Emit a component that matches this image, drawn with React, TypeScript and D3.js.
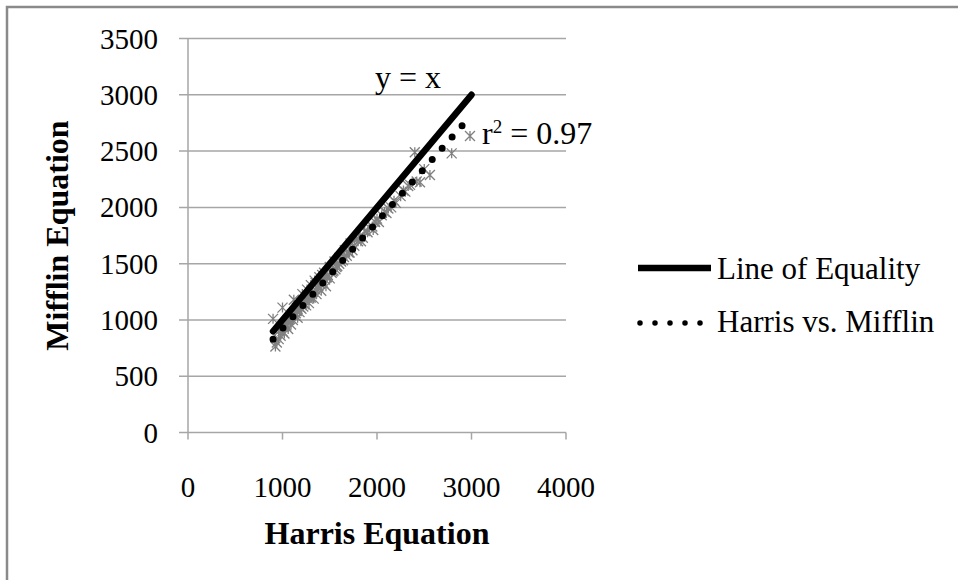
import React from "react";
import * as d3 from "d3";

const yTicks = [0, 500, 1000, 1500, 2000, 2500, 3000, 3500];
const xTicks = [0, 1000, 2000, 3000, 4000];

// Line of equality endpoints (Harris, Mifflin)
const equalityLine: [number, number][] = [
  [900, 900],
  [3000, 3000],
];
// Regression (Harris vs. Mifflin) endpoints
const regressionLine: [number, number][] = [
  [900, 830],
  [2980, 2800],
];

// Scatter: Harris vs Mifflin
const harrisValues = [
  900, 925, 940, 960, 980, 1000, 1000, 1020, 1040, 1050, 1060, 1080, 1090, 1100, 1110, 1120, 1130, 1150, 1160,
  1170, 1180, 1200, 1200, 1210, 1220, 1240, 1250, 1260, 1270, 1280, 1290, 1300, 1300, 1320, 1330, 1340, 1350,
  1360, 1380, 1390, 1400, 1410, 1420, 1440, 1450, 1460, 1480, 1500, 1500, 1520, 1540, 1550, 1560, 1580, 1600,
  1600, 1620, 1650, 1660, 1680, 1700, 1720, 1740, 1760, 1780, 1800, 1820, 1850, 1870, 1900, 1920, 1950, 1980,
  2000, 2020, 2050, 2080, 2100, 2150, 2180, 2200, 2250, 2280, 2300, 2350, 2400, 2420, 2455, 2500, 2560, 2790,
  2984, 1030, 1070, 1140, 1190, 1230, 1310, 1370, 1430, 1470, 1530, 1570, 1640, 1710, 1830, 1960, 2120, 2330,
  960, 1010, 1150, 1280, 1350, 1420,
];
const mifflinValues = [
  1010, 765, 800, 830, 860, 900, 1110, 880, 950, 990, 920, 1010, 960, 1050, 1000, 1180, 1040, 1080, 1020,
  1120, 1070, 1150, 1100, 1230, 1120, 1180, 1130, 1270, 1190, 1150, 1230, 1310, 1200, 1250, 1190, 1350, 1270,
  1230, 1300, 1380, 1320, 1260, 1340, 1420, 1360, 1300, 1400, 1470, 1370, 1420, 1440, 1520, 1450, 1480, 1550,
  1500, 1520, 1560, 1620, 1570, 1600, 1680, 1620, 1660, 1720, 1700, 1740, 1730, 1790, 1780, 1820, 1830, 1870,
  1900, 1870, 1930, 1960, 1950, 2000, 2060, 2040, 2100, 2150, 2140, 2200, 2490, 2230, 2224, 2340, 2287, 2480,
  2634, 960, 1000, 1060, 1110, 1140, 1230, 1290, 1330, 1380, 1430, 1470, 1530, 1600, 1700, 1800, 1990, 2190,
  900, 940, 1110, 1200, 1330, 1400,
];

const W = 958;
const H = 580;
const FONT = "'Liberation Serif', 'Times New Roman', serif";

export default function App() {
  const x = d3.scaleLinear().domain([0, 4000]).range([188, 566]);
  const y = d3.scaleLinear().domain([0, 3500]).range([432.6, 38.5]);
  const line = d3
    .line<[number, number]>()
    .x((d) => x(d[0]))
    .y((d) => y(d[1]));
  const pts = harrisValues.map((h, i) => [h, mifflinValues[i]] as [number, number]);
  const s = 5;
  const grid = "#a6a6a6";
  return (
    <div style={{ position: "fixed", left: 0, top: 0, width: W, height: H, background: "#fff" }}>
      <svg width={W} height={H} style={{ display: "block", fontFamily: FONT }}>
        <rect x={0} y={0} width={W} height={H} fill="#fff" />
        {/* outer frame */}
        <path d={`M7,${H + 5} V7 H${W + 5}`} fill="none" stroke="#8a8a8a" strokeWidth={2.5} />
        {/* gridlines */}
        {yTicks.map((t) => (
          <line key={"g" + t} x1={179} x2={566} y1={y(t)} y2={y(t)} stroke={grid} strokeWidth={1.5} />
        ))}
        {/* y axis */}
        <line x1={x(0)} x2={x(0)} y1={y(3500)} y2={y(0)} stroke={grid} strokeWidth={1.5} />
        {xTicks.map((t) => (
          <line key={"xt" + t} x1={x(t)} x2={x(t)} y1={y(0)} y2={y(0) + 7} stroke={grid} strokeWidth={1.5} />
        ))}
        {/* tick labels */}
        {yTicks.map((t) => (
          <text key={"yl" + t} x={158} y={y(t) + 10} textAnchor="end" fontSize={29} fill="#000">
            {t}
          </text>
        ))}
        {xTicks.map((t) => (
          <text key={"xl" + t} x={x(t)} y={497} textAnchor="middle" fontSize={29} fill="#000">
            {t}
          </text>
        ))}
        {/* axis titles */}
        <text x={377} y={544} textAnchor="middle" fontSize={32} fontWeight="bold" fill="#000">
          Harris Equation
        </text>
        <text
          transform={`translate(68,${(y(0) + y(3500)) / 2}) rotate(-90)`}
          textAnchor="middle"
          fontSize={32}
          fontWeight="bold"
          fill="#000"
        >
          Mifflin Equation
        </text>
        {/* scatter */}
        {pts.map((p, i) => {
          const cx = x(p[0]);
          const cy = y(p[1]);
          return (
            <path
              key={"p" + i}
              d={`M${cx - s},${cy - s}L${cx + s},${cy + s}M${cx - s},${cy + s}L${cx + s},${cy - s}M${cx},${cy - s}L${cx},${cy + s}`}
              stroke="#808080"
              strokeWidth={1.3}
              fill="none"
            />
          );
        })}
        {/* regression dotted */}
        <path
          d={line(regressionLine) || ""}
          stroke="#000"
          strokeWidth={7}
          strokeDasharray="0 15"
          strokeLinecap="round"
          fill="none"
        />
        {/* line of equality */}
        <path d={line(equalityLine) || ""} stroke="#000" strokeWidth={6.5} strokeLinecap="round" fill="none" />
        {/* annotations */}
        <text x={375} y={88} fontSize={32} fill="#000">
          y = x
        </text>
        <text x={482} y={144} fontSize={32} fill="#000">
          r<tspan dy={-11} fontSize={19}>2</tspan>
          <tspan dy={11}> = 0.97</tspan>
        </text>
        {/* legend */}
        <line x1={638} x2={711} y1={268} y2={268} stroke="#000" strokeWidth={6.5} />
        <text x={717} y={279} fontSize={31} fill="#000">
          Line of Equality
        </text>
        <line
          x1={640}
          x2={705}
          y1={323}
          y2={323}
          stroke="#000"
          strokeWidth={5.5}
          strokeDasharray="0 15"
          strokeLinecap="round"
        />
        <text x={717} y={332} fontSize={31} fill="#000">
          Harris vs. Mifflin
        </text>
      </svg>
    </div>
  );
}
